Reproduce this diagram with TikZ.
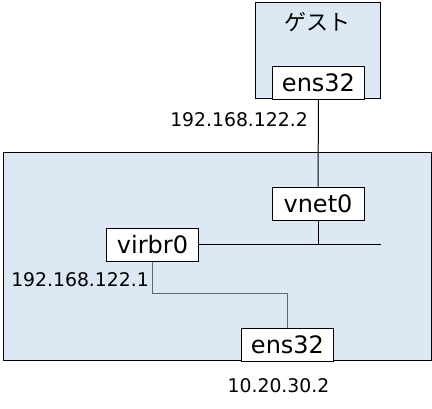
\documentclass[tikz,border=0pt]{standalone}
\usepackage{fontspec}
\setmainfont{DejaVu Sans}
\newfontfamily\jpfont{Noto Sans CJK JP}
\usepackage{tikz}
\usetikzlibrary{positioning}

\definecolor{boxfill}{RGB}{221,232,245}
\tikzset{
  vmbox/.style={draw,line width=1pt,fill=boxfill,inner sep=0pt},
  nic/.style={draw,line width=0.9pt,fill=white,minimum width=92pt,minimum height=33pt,inner sep=0pt,font=\fontsize{24}{26}\selectfont},
  addr/.style={font=\fontsize{18.8}{20}\selectfont,inner sep=0pt},
  wire/.style={line width=1pt}
}

\begin{document}
\begin{tikzpicture}[x=1pt,y=-1pt]
	\useasboundingbox (0,0) rectangle (432,409);
	\node[vmbox,minimum width=428pt,minimum height=208pt] (host) at (217,257) {};
	\node[vmbox,minimum width=125pt,minimum height=96pt] (guest) at (317.5,51) {};
	\node[font=\jpfont\fontsize{22}{24}\selectfont] (guestname) at (317.5,22) {ゲスト};

	\node[nic] (guestnic) at (318.5,82.5) {ens32};
	\node[nic] (vnet) at (318,203.5) {vnet0};
	\node[nic] (virbr) at (152.5,245) {virbr0};
	\node[nic] (hostnic) at (287.5,344.5) {ens32};
	\coordinate (busend) at (381,245);

	\node[addr,anchor=east] (guestip) at (308,120) {192.168.122.2};
	\node[addr,anchor=east] (virbrip) at (149,280) {192.168.122.1};
	\node[addr] (hostip) at (278.5,386) {10.20.30.2};

	\path[wire] (guestnic) edge (vnet);
	\path[wire] (virbr) edge (busend);
	\path[wire] (vnet.south) edge (vnet.south |- busend);
	\draw[wire,gray!80!black] (virbr.south) -- ++(0,32) -| (hostnic.north);
\end{tikzpicture}
\end{document}
